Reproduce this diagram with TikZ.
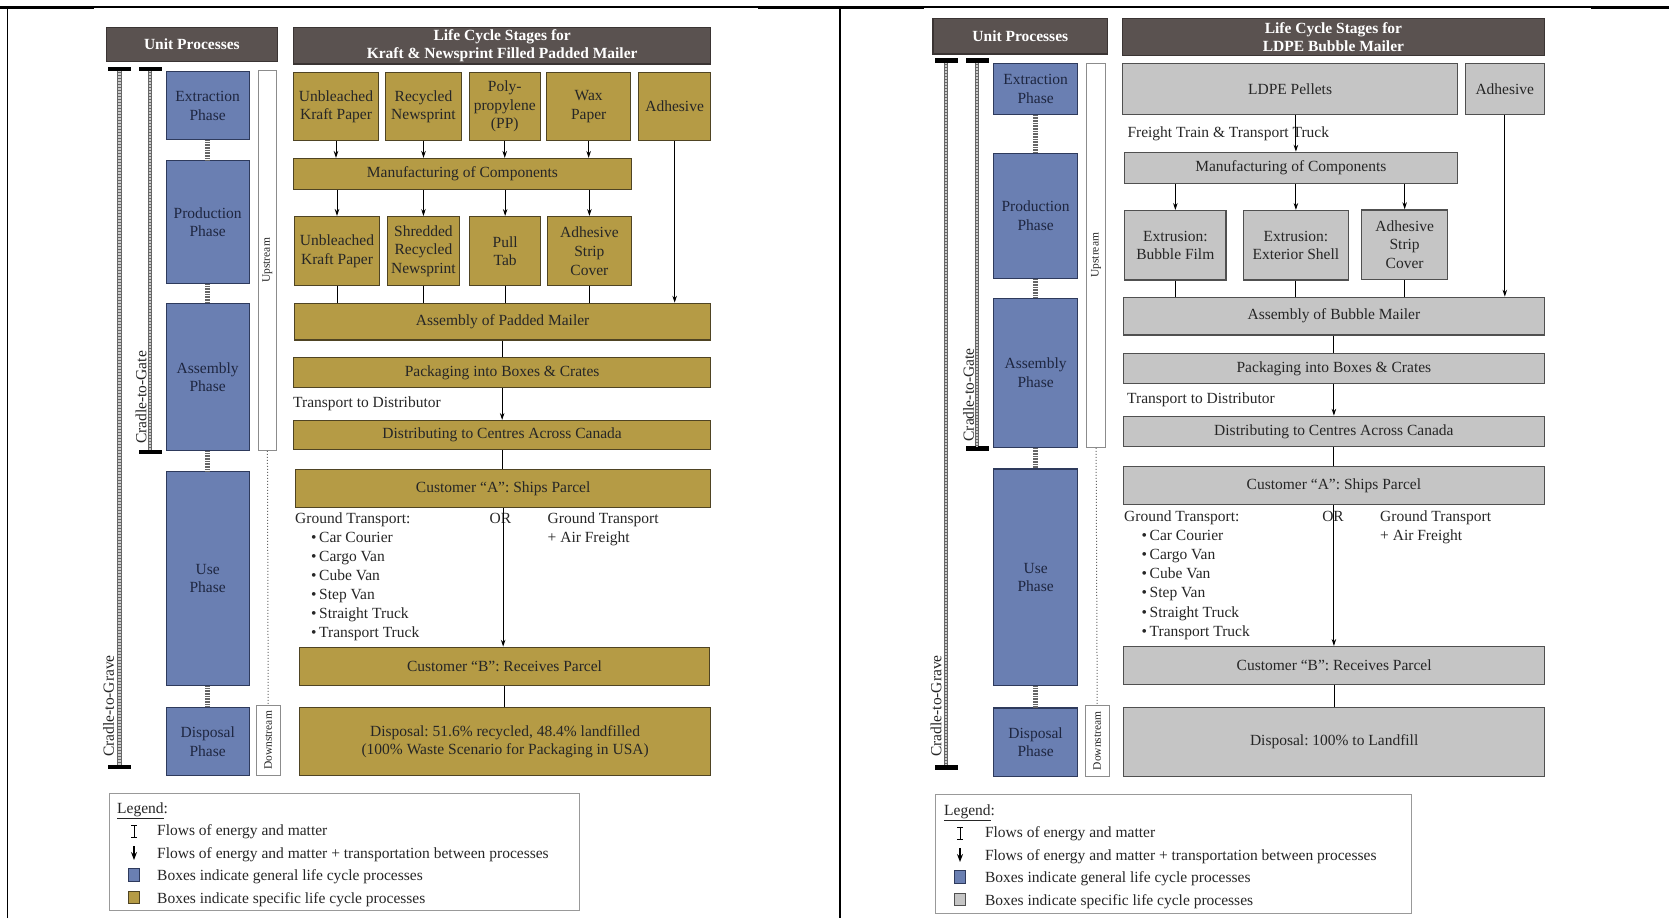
\documentclass[tikz,border=0pt]{standalone}
\usepackage{fontspec}
\usepackage{graphicx}
\setmainfont{Liberation Serif}
\usetikzlibrary{arrows.meta}
\definecolor{hdrc}{HTML}{5A5250}
\definecolor{hdrd}{HTML}{3A3433}
\definecolor{bluec}{HTML}{6A7FB2}
\definecolor{blued}{HTML}{2E3A5C}
\definecolor{bluet}{HTML}{1E2640}
\definecolor{goldc}{HTML}{B59B45}
\definecolor{goldd}{HTML}{4F4423}
\definecolor{greyc}{HTML}{C5C5C5}
\definecolor{greyd}{HTML}{505050}
\definecolor{txtc}{HTML}{262626}
\newcommand\myfs{\fontsize{15.5}{18.6}\selectfont}
\newcommand\mysm{\fontsize{11.5}{13}\selectfont}
\newcommand\mybox[7]{\node[#2, anchor=north west, minimum width={#5-#3}, minimum height={#6-#4}] (#1) at (#3,#4) {#7};}
\tikzset{
 box/.style={draw, line width=1.3pt, inner sep=0pt, align=center, font=\myfs, text=txtc},
 hdrbox/.style={box, fill=hdrc, draw=hdrd, text=white, font=\myfs\bfseries},
 bluebox/.style={box, fill=bluec, draw=blued, text=bluet},
 goldbox/.style={box, fill=goldc, draw=goldd},
 greybox/.style={box, fill=greyc, draw=greyd},
 wbox/.style={draw=black!45, line width=0.8pt, fill=white, inner sep=0pt, font=\mysm, text=txtc},
 lbl/.style={inner sep=0pt, font=\myfs, text=txtc},
 arr/.style={-{Stealth[length=7pt,width=4.5pt]}, line width=0.9pt},
 legarr/.style={-{Stealth[length=8pt,width=6pt]}, line width=1.2pt},
 ln/.style={line width=0.9pt},
 capbar/.style={fill=black, inner sep=0pt, minimum width=23, minimum height=4.5},
 rail/.style={line width=4.5pt, draw=black!60, postaction={draw=black!20, line width=2.5pt, dash pattern=on 0.7pt off 0.8pt}},
 plink/.style={line width=5pt, draw=black!60, dash pattern=on 0.8pt off 0.8pt},
 legbox/.style={draw=black!40, line width=1pt, inner sep=0pt, fill=white},
 dotlink/.style={draw=black!60, line width=1pt, dotted},
}
\begin{document}
\frenchspacing
\begin{tikzpicture}[x=1pt,y=-1pt]
\useasboundingbox[fill=white] (0,0) rectangle (1669,918);
% frame
\draw[line width=1.2pt] (7.5,918) -- (7.5,7) -- (1669,7);
\draw[line width=1.2pt] (840,7) -- (840,918);
\draw[line width=3pt] (0,7) -- (94,7);
\draw[line width=3pt] (758,7) -- (924,7);
\draw[line width=3pt] (1591,7) -- (1669,7);

%================ LEFT PANEL ================
\mybox{lhU}{hdrbox}{105.5}{26.7}{277}{61}{Unit Processes}
\mybox{lhL}{hdrbox}{293}{26.7}{710}{63.3}{Life Cycle Stages for\\Kraft \& Newsprint Filled Padded Mailer}
% rails
\node[capbar] (lgvT) at (119.5,69) {};
\node[capbar] (lgvB) at (119.5,767) {};
\node[capbar] (lgtT) at (150,69) {};
\node[capbar] (lgtB) at (150,452) {};
\draw[rail] (lgvT.south) -- (lgvB.north);
\draw[rail] (lgtT.south) -- (lgtB.north);
\node[lbl, rotate=90] (lgvL) at (108.5,706) {Cradle-to-Grave};
\node[lbl, rotate=90] (lgtL) at (141,397.5) {Cradle-to-Gate};
% phases
\mybox{lbE}{bluebox}{165.5}{71}{248.6}{139}{Extraction\\Phase}
\mybox{lbP}{bluebox}{165.5}{160}{248.6}{283}{Production\\Phase}
\mybox{lbA}{bluebox}{165.5}{303}{248.6}{450}{Assembly\\Phase}
\mybox{lbU}{bluebox}{165.5}{470.7}{248.6}{685}{Use\\Phase}
\mybox{lbD}{bluebox}{165.5}{707}{248.6}{775}{Disposal\\Phase}
\draw[plink] (lbE.south) -- (lbP.north);
\draw[plink] (lbP.south) -- (lbA.north);
\draw[plink] (lbA.south) -- (lbU.north);
\draw[plink] (lbU.south) -- (lbD.north);
\mybox{lup}{wbox}{257.7}{70}{276.4}{450}{\rotatebox{90}{Upstream}}
\mybox{ldn}{wbox}{256}{705}{279.6}{775}{\rotatebox{90}{Downstream}}
\draw[dotlink] (lup.south) -- (ldn.north);
% stages
\mybox{lt1}{goldbox}{293}{72}{377.7}{140}{Unbleached\\Kraft Paper}
\mybox{lt2}{goldbox}{385}{72}{460.7}{140}{Recycled\\Newsprint}
\mybox{lt3}{goldbox}{468.7}{72}{539.5}{140}{Poly-\\propylene\\(PP)}
\mybox{lt4}{goldbox}{546}{72}{630}{140}{Wax\\Paper}
\mybox{lt5}{goldbox}{638}{72}{710}{140}{Adhesive}
\mybox{lmf}{goldbox}{293}{158}{630.5}{189}{Manufacturing of Components}
\mybox{lm1}{goldbox}{294}{216}{378.7}{285}{Unbleached\\Kraft Paper}
\mybox{lm2}{goldbox}{387}{216}{458.6}{285}{Shredded\\Recycled\\Newsprint}
\mybox{lm3}{goldbox}{469}{216}{540}{285}{Pull\\Tab}
\mybox{lm4}{goldbox}{547}{216}{630.5}{285}{Adhesive\\Strip\\Cover}
\mybox{las}{goldbox}{294}{302.7}{710}{339.3}{Assembly of Padded Mailer}
\mybox{lpk}{goldbox}{293}{356.7}{710}{386.7}{Packaging into Boxes \& Crates}
\mybox{ldi}{goldbox}{293}{420}{710}{449}{Distributing to Centres Across Canada}
\mybox{lca}{goldbox}{295}{469}{710}{507}{Customer “A”: Ships Parcel}
\mybox{lcb}{goldbox}{299}{646.7}{708.7}{685}{Customer “B”: Receives Parcel}
\mybox{ldp}{goldbox}{299}{707}{710}{775}{Disposal: 51.6\% recycled, 48.4\% landfilled\\(100\% Waste Scenario for Packaging in USA)}
% labels
\node[lbl, anchor=base west] (lttd) at (293,407.7) {Transport to Distributor};
\node[lbl, anchor=base] (lor) at (500.5,523.3) {OR};
\node[lbl, anchor=base west] (lgt) at (295,523.3) {Ground Transport:};
\foreach \t [count=\i] in {Car Courier, Cargo Van, Cube Van, Step Van, Straight Truck, Transport Truck}
  \node[lbl, anchor=base west] (ll\i) at (311,523.3+19*\i) {•\,\t};
\node[lbl, anchor=base west] (lga) at (547.5,523.3) {Ground Transport};
\node[lbl, anchor=base west] (lgb) at (547.5,542.3) {+ Air Freight};
% connectors
\foreach \a/\b in {lt1/lm1, lt2/lm2, lt3/lm3, lt4/lm4} {
  \draw[arr] (\a.south) -- (\a.south |- lmf.north);
  \draw[arr] (lmf.south -| \b.north) -- (\b.north);
  \draw[ln] (\b.south) -- (\b.south |- las.north);
}
\draw[arr] (lt5.south) -- (lt5.south |- las.north);
\draw[ln] (las.south) -- (las.south |- lpk.north);
\draw[arr] (lpk.south) -- (lpk.south |- ldi.north);
\draw[ln] (ldi.south) -- (ldi.south |- lca.north);
\draw[arr] (lca.south) -- (lca.south |- lcb.north);
\draw[ln] (lcb.south) -- (lcb.south |- ldp.north);
% legend
\node[legbox, anchor=north west, minimum width=470, minimum height=117.3] (lleg) at (108.7,792.7) {};
\node[lbl, anchor=base west] (llT) at (117,813) {\underline{Legend}:};
\node[lbl, anchor=base west] (ll1t) at (157,835.7) {Flows of energy and matter};
\node[lbl, anchor=base west] (ll2t) at (157,858.3) {Flows of energy and matter + transportation between processes};
\node[lbl, anchor=base west] (ll3t) at (157,880.7) {Boxes indicate general life cycle processes};
\node[lbl, anchor=base west] (ll4t) at (157,903) {Boxes indicate specific life cycle processes};
\draw[ln] (134,825) -- (134,837) (131,825) -- (137,825) (131,837) -- (137,837);
\draw[legarr] (134,846) -- (134,860);
\node[bluebox, line width=1pt, minimum width=11, minimum height=12.5] (ll3s) at (134,875) {};
\node[goldbox, line width=1pt, minimum width=11, minimum height=12.5] (ll4s) at (134,897.5) {};

%================ RIGHT PANEL ================
\mybox{rhU}{hdrbox}{932.3}{17.7}{1107}{53.3}{Unit Processes}
\mybox{rhL}{hdrbox}{1122}{17.7}{1543.5}{55}{Life Cycle Stages for\\LDPE Bubble Mailer}
\node[capbar] (rgvT) at (946,60.7) {};
\node[capbar] (rgvB) at (946,767.3) {};
\node[capbar] (rgtT) at (977,60.7) {};
\node[capbar] (rgtB) at (977,448.3) {};
\draw[rail] (rgvT.south) -- (rgvB.north);
\draw[rail] (rgtT.south) -- (rgtB.north);
\node[lbl, rotate=90] (rgvL) at (936,706) {Cradle-to-Grave};
\node[lbl, rotate=90] (rgtL) at (968.5,395) {Cradle-to-Gate};
\mybox{rbE}{bluebox}{992.9}{62.7}{1077}{113.7}{Extraction\\Phase}
\mybox{rbP}{bluebox}{992.9}{152.7}{1077}{277.7}{Production\\Phase}
\mybox{rbA}{bluebox}{992.9}{297.7}{1077}{446.7}{Assembly\\Phase}
\mybox{rbU}{bluebox}{992.9}{468.3}{1077}{685}{Use\\Phase}
\mybox{rbD}{bluebox}{992.9}{707.3}{1077}{775.7}{Disposal\\Phase}
\draw[plink] (rbE.south) -- (rbP.north);
\draw[plink] (rbP.south) -- (rbA.north);
\draw[plink] (rbA.south) -- (rbU.north);
\draw[plink] (rbU.south) -- (rbD.north);
\mybox{rup}{wbox}{1086}{62.7}{1105.4}{447}{\rotatebox{90}{Upstream}}
\mybox{rdn}{wbox}{1085}{705}{1108.6}{776}{\rotatebox{90}{Downstream}}
\draw[dotlink] (rup.south) -- (rdn.north);
\mybox{rlp}{greybox}{1122}{62.7}{1456.8}{113.7}{LDPE Pellets}
\mybox{rad}{greybox}{1464.8}{62.7}{1543.5}{113.7}{Adhesive}
\mybox{rmf}{greybox}{1123.6}{151.7}{1456.8}{182.7}{Manufacturing of Components}
\mybox{rb1}{greybox}{1124}{210}{1225.4}{279.3}{Extrusion:\\Bubble Film}
\mybox{rb2}{greybox}{1243}{210}{1347.5}{279.3}{Extrusion:\\Exterior Shell}
\mybox{rb3}{greybox}{1361}{209.3}{1447}{278.7}{Adhesive\\Strip\\Cover}
\mybox{ras}{greybox}{1123}{296.7}{1543.5}{334.3}{Assembly of Bubble Mailer}
\mybox{rpk}{greybox}{1123}{352.7}{1543.5}{382.7}{Packaging into Boxes \& Crates}
\mybox{rdi}{greybox}{1123}{415.7}{1543.5}{445.7}{Distributing to Centres Across Canada}
\mybox{rca}{greybox}{1123}{466}{1543.5}{504}{Customer “A”: Ships Parcel}
\mybox{rcb}{greybox}{1123}{646}{1544}{684}{Customer “B”: Receives Parcel}
\mybox{rdp}{greybox}{1123}{706.7}{1544}{776}{Disposal: 100\% to Landfill}
\node[lbl, anchor=base west] (rft) at (1127.3,137.7) {Freight Train \& Transport Truck};
\node[lbl, anchor=base west] (rttd) at (1127,403) {Transport to Distributor};
\node[lbl, anchor=base] (ror) at (1333,521) {OR};
\node[lbl, anchor=base west] (rgt) at (1124,521) {Ground Transport:};
\foreach \t [count=\i] in {Car Courier, Cargo Van, Cube Van, Step Van, Straight Truck, Transport Truck}
  \node[lbl, anchor=base west] (rl\i) at (1141.5,521+19.2*\i) {•\,\t};
\node[lbl, anchor=base west] (rga) at (1380,521) {Ground Transport};
\node[lbl, anchor=base west] (rgb) at (1380,540) {+ Air Freight};
\draw[arr] (rlp.south -| rb2.north) -- (rmf.north -| rb2.north);
\foreach \b in {rb1, rb2, rb3} {
  \draw[arr] (rmf.south -| \b.north) -- (\b.north);
  \draw[ln] (\b.south) -- (\b.south |- ras.north);
}
\draw[arr] (rad.south) -- (rad.south |- ras.north);
\draw[ln] (ras.south) -- (ras.south |- rpk.north);
\draw[arr] (rpk.south) -- (rpk.south |- rdi.north);
\draw[ln] (rdi.south) -- (rdi.south |- rca.north);
\draw[arr] (rca.south) -- (rca.south |- rcb.north);
\draw[ln] (rcb.south) -- (rcb.south |- rdp.north);
\node[legbox, anchor=north west, minimum width=476.5, minimum height=118.7] (rleg) at (934.5,794) {};
\node[lbl, anchor=base west] (rlT) at (944,815) {\underline{Legend}:};
\node[lbl, anchor=base west] (rl1t) at (984.8,837.3) {Flows of energy and matter};
\node[lbl, anchor=base west] (rl2t) at (984.8,860) {Flows of energy and matter + transportation between processes};
\node[lbl, anchor=base west] (rl3t) at (984.8,882.3) {Boxes indicate general life cycle processes};
\node[lbl, anchor=base west] (rl4t) at (984.8,905) {Boxes indicate specific life cycle processes};
\draw[ln] (960,827) -- (960,839) (957,827) -- (963,827) (957,839) -- (963,839);
\draw[legarr] (960,848) -- (960,862);
\node[bluebox, line width=1pt, minimum width=11, minimum height=12.5] (rl3s) at (960,877) {};
\node[greybox, line width=1pt, minimum width=11, minimum height=12.5] (rl4s) at (960,899.5) {};
\end{tikzpicture}
\end{document}
